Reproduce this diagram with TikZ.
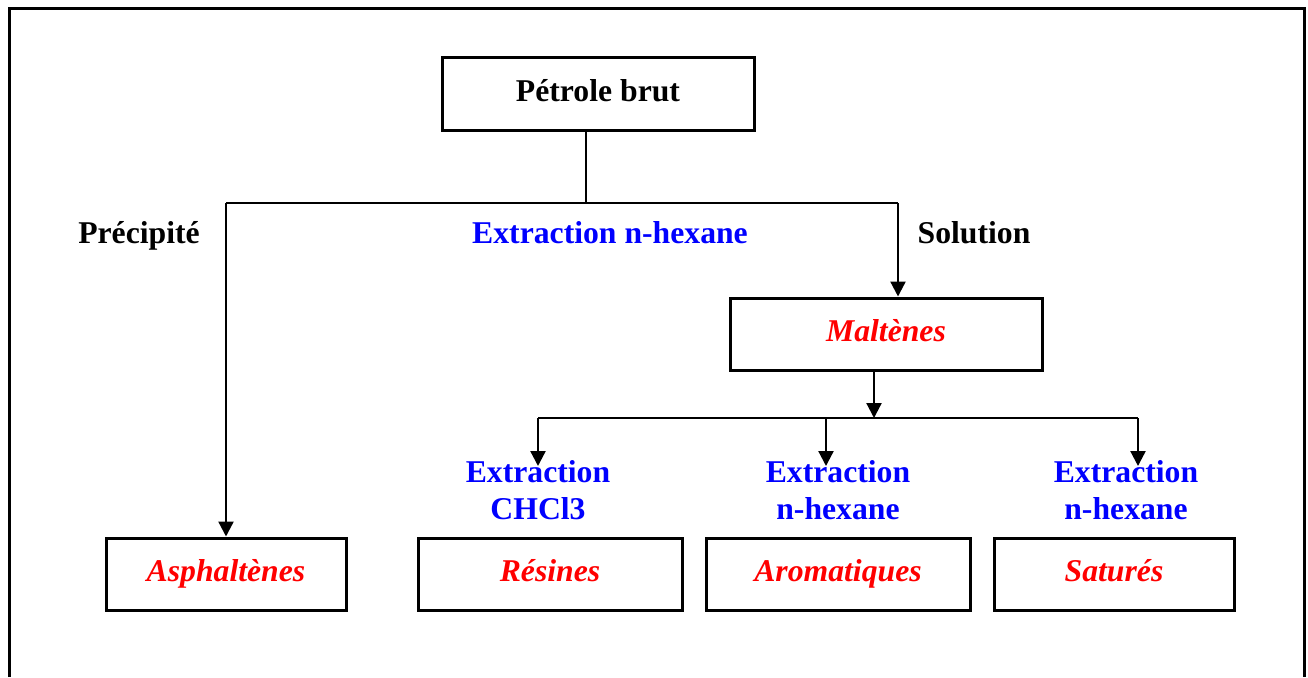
\documentclass[tikz,border=0pt]{standalone}
\usepackage{fontspec}
\setmainfont{Liberation Serif}
\usetikzlibrary{arrows.meta}
\definecolor{redtxt}{RGB}{255,0,0}
\definecolor{bluetxt}{RGB}{0,0,255}
\begin{document}
\begin{tikzpicture}[x=1pt,y=-1pt,
  every node/.style={font=\fontsize{31.7}{37}\selectfont\bfseries, inner sep=0pt},
  box/.style={draw, line width=3pt, rectangle, minimum height=72pt, text height=22pt, text depth=8pt},
  redit/.style={text=redtxt, font=\fontsize{31.7}{37}\selectfont\bfseries\itshape},
  bluelbl/.style={text=bluetxt, align=center},
  conn/.style={line width=2.3pt},
  arr/.style={conn, -{Triangle[width=15pt,length=15pt]}},
  frame/.style={line width=3pt}]
\useasboundingbox (0,0) rectangle (1308,677);
\fill[white] (0,0) rectangle (1308,677);
% outer frame (bottom edge lies outside the picture)
\draw[frame] (9,677) -- (9,9) -- (1304,9) -- (1304,677);

% boxes
\node[box, minimum width=312pt] (petrole) at (598,94) {Pétrole brut};
\node[box, minimum width=312pt, redit] (maltenes) at (886,334) {Maltènes};
\node[box, minimum width=240pt, redit] (asph) at (226,574) {Asphaltènes};
\node[box, minimum width=264pt, redit] (resines) at (550,574) {Résines};
\node[box, minimum width=264pt, redit] (arom) at (838,574) {Aromatiques};
\node[box, minimum width=240pt, redit] (satur) at (1114,574) {Saturés};

% labels
\node[anchor=base] (precip) at (139,243) {Précipité};
\node[anchor=base, text=bluetxt] (extr) at (610,243) {Extraction n-hexane};
\node[anchor=base] (sol) at (974,243) {Solution};
\node[bluelbl] (lres) at (538,490) {Extraction\\CHCl3};
\node[bluelbl] (larom) at (838,490) {Extraction\\n-hexane};
\node[bluelbl] (lsat) at (1126,490) {Extraction\\n-hexane};

% coordinates
\coordinate (j1) at (586,203);
\coordinate (jl) at (226,203);
\coordinate (jr) at (898,203);
\coordinate (j2) at (874,418);
\coordinate (kl) at (538,418);
\coordinate (km) at (826,418);
\coordinate (kr) at (1138,418);

% connectors
\draw[conn] (petrole.south -| j1) -- (j1);
\draw[conn] (jl) -- (jr);
\draw[arr] (jl) -- (asph.north);
\draw[arr] (jr) -- (jr |- maltenes.north);
\draw[arr] (maltenes.south -| j2) -- (j2);
\draw[conn] (kl) -- (kr);
\draw[arr] (kl) -- (538,466);
\draw[arr] (km) -- (826,466);
\draw[arr] (kr) -- (1138,466);
\end{tikzpicture}
\end{document}
